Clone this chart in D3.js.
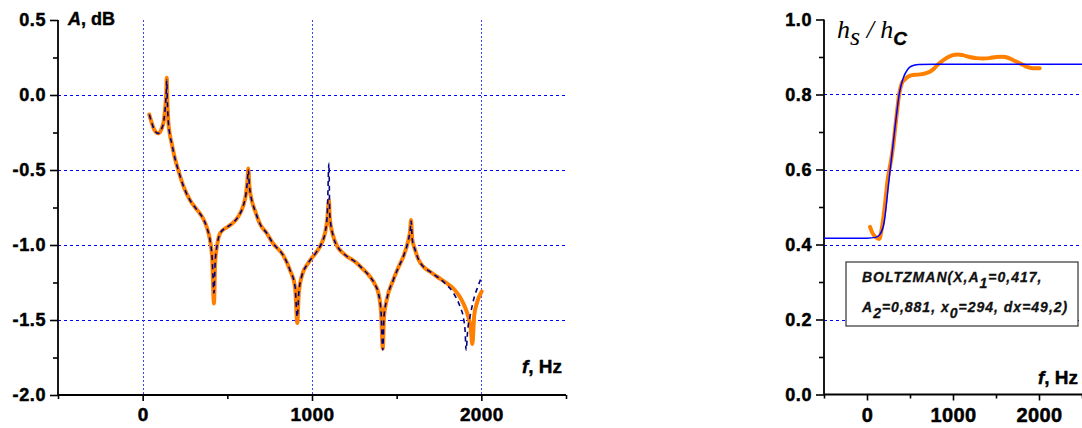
<!DOCTYPE html>
<html><head><meta charset="utf-8">
<script src="https://cdn.jsdelivr.net/npm/d3@7"></script>
<style>body{margin:0;background:#fff} svg{display:block}</style>
</head><body>
<svg id="c" width="1082" height="428"></svg>
<script>
// ---- Left panel: amplitude A (dB) vs frequency f (Hz)
const leftMeasF = [39,55,70,92,110,125,135,140,142,146,151,160,171,190,210,245,279,310,338,360,378,398,410,421,428,440,458,500,533,565,592,610,618,624,630,640,651,663,693,732,770,829,870,900,913,922,939,978,1028,1060,1077,1090,1100,1105,1126,1150,1185,1264,1300,1342,1375,1392,1408,1418,1425,1441,1480,1510,1539,1569,1580,1585,1592,1609,1630,1657,1700,1737,1790,1835,1870,1894,1923,1938,1947,1958,1973,2002];
const leftMeasA = [-0.13,-0.19,-0.235,-0.256,-0.23,-0.17,-0.06,0.03,0.115,-0.05,-0.17,-0.26,-0.32,-0.42,-0.5,-0.62,-0.70,-0.75,-0.79,-0.83,-0.88,-0.97,-1.08,-1.39,-1.12,-1.0,-0.92,-0.88,-0.853,-0.81,-0.745,-0.66,-0.58,-0.49,-0.60,-0.68,-0.73,-0.77,-0.86,-0.92,-0.99,-1.067,-1.167,-1.278,-1.52,-1.32,-1.21,-1.12,-1.044,-0.98,-0.92,-0.83,-0.70,-0.82,-0.944,-1.01,-1.056,-1.12,-1.16,-1.21,-1.27,-1.32,-1.45,-1.69,-1.48,-1.367,-1.233,-1.15,-1.078,-0.967,-0.90,-0.833,-0.96,-1.033,-1.10,-1.144,-1.18,-1.21,-1.25,-1.29,-1.34,-1.39,-1.478,-1.56,-1.66,-1.47,-1.39,-1.31];
const leftModelF = [39,55,70,92,110,125,135,140,142,146,151,160,171,190,210,245,279,310,338,360,378,398,410,421,428,440,458,500,533,565,592,610,618,624,630,640,651,663,693,732,770,829,870,900,913,922,939,978,1028,1060,1077,1090,1100,1105,1126,1150,1185,1264,1300,1342,1375,1392,1408,1418,1425,1441,1480,1510,1539,1569,1580,1585,1592,1609,1630,1657,1700,1737,1790,1835,1874,1895,1904,1910,1920,1933,1953,1982,2002];
const leftModelA = [-0.13,-0.19,-0.235,-0.256,-0.23,-0.17,-0.06,0.03,0.10,-0.05,-0.17,-0.26,-0.32,-0.42,-0.5,-0.62,-0.70,-0.75,-0.79,-0.83,-0.88,-0.97,-1.08,-1.32,-1.12,-1.0,-0.92,-0.88,-0.853,-0.81,-0.745,-0.66,-0.58,-0.50,-0.60,-0.68,-0.73,-0.77,-0.86,-0.92,-0.99,-1.067,-1.167,-1.278,-1.48,-1.32,-1.21,-1.12,-1.044,-0.98,-0.92,-0.80,-0.456,-0.80,-0.944,-1.01,-1.056,-1.12,-1.16,-1.21,-1.27,-1.32,-1.45,-1.70,-1.48,-1.367,-1.233,-1.15,-1.078,-0.967,-0.90,-0.84,-0.96,-1.033,-1.10,-1.144,-1.18,-1.21,-1.26,-1.32,-1.41,-1.49,-1.57,-1.70,-1.56,-1.478,-1.37,-1.27,-1.21];
const leftYTicks = [-2.0,-1.5,-1.0,-0.5,0.0,0.5];
const leftYMinor = [-1.75,-1.25,-0.75,-0.25,0.25];
const leftYGrid = [-1.5,-1.0,-0.5,0.0];
const leftXTicks = [0,1000,2000];
const leftXMinor = [-500,500,1500,2500];
const leftXGrid = [0,1000,2000];

// ---- Right panel: h_s / h_C vs frequency f (Hz)
const rightMeasF = [35,60,100,143,170,202,240,280,298,338,376,405,435,480,531,600,688,740,784,820,862,930,998,1060,1114,1190,1270,1350,1425,1500,1580,1640,1697,1760,1814,1870,1930,2008];
const rightMeasR = [0.447,0.432,0.42,0.415,0.44,0.492,0.572,0.625,0.652,0.732,0.803,0.83,0.839,0.848,0.852,0.853,0.857,0.862,0.87,0.879,0.887,0.898,0.905,0.907,0.905,0.9,0.897,0.896,0.897,0.9,0.901,0.898,0.892,0.885,0.879,0.873,0.87,0.87];
const rightFitF = [-500,0,100,150,200,250,294,340,376,420,470,520,600,800,2500];
const rightFitR = [0.417,0.417,0.419,0.427,0.46,0.56,0.649,0.74,0.803,0.843,0.866,0.876,0.880,0.881,0.881];
const rightYTicks = [0.0,0.2,0.4,0.6,0.8,1.0];
const rightYMinor = [0.1,0.3,0.5,0.7,0.9];
const rightYGrid = [0.2,0.4,0.6,0.8];
const rightXTicks = [0,1000,2000];
const rightXMinor = [-500,500,1500,2500];

const svg = d3.select("#c");
const FONT = "'Liberation Sans', Arial, sans-serif";
const ORANGE = "#ff8000", NAVY = "#000080", BLUE = "#0000ff", GRID = "#0000ff";

function panel(o) {
  const g = svg.append("g");
  const x = d3.scaleLinear().domain([-500,2500]).range(o.xr);
  const y = d3.scaleLinear().domain(o.yd).range(o.yr);
  g.selectAll(".hg").data(o.yGrid).join("line")
    .attr("x1", o.xr[0]).attr("x2", o.gridRight).attr("y1", d=>Math.round(y(d))+0.5).attr("y2", d=>Math.round(y(d))+0.5)
    .attr("stroke", GRID).attr("stroke-width",1).attr("stroke-dasharray","3,3");
  if (o.xGrid) g.selectAll(".vg").data(o.xGrid).join("line")
    .attr("y1", o.yr[1]).attr("y2", o.yr[0]).attr("x1", d=>Math.round(x(d))+0.5).attr("x2", d=>Math.round(x(d))+0.5)
    .attr("stroke", "#4040ff").attr("stroke-width",1).attr("stroke-dasharray","2,2");
  const yAx = g.append("g").attr("transform",`translate(${o.xr[0]},0)`)
    .call(d3.axisLeft(y).tickValues(o.yTicks).tickSize(8).tickPadding(4).tickFormat(d=>d.toFixed(1)));
  const yAxm = g.append("g").attr("transform",`translate(${o.xr[0]},0)`)
    .call(d3.axisLeft(y).tickValues(o.yMinor).tickSize(5).tickFormat(""));
  const xAx = g.append("g").attr("transform",`translate(0,${o.yr[0]})`)
    .call(d3.axisBottom(x).tickValues(o.xTicks).tickSize(6).tickPadding(7).tickFormat(d=>String(d)));
  const xAxm = g.append("g").attr("transform",`translate(0,${o.yr[0]})`)
    .call(d3.axisBottom(x).tickValues(o.xMinor).tickSize(4).tickFormat(""));
  [yAx,yAxm,xAx,xAxm].forEach(a=>{
    a.select(".domain").attr("stroke","#000").attr("stroke-width",1.8);
    a.selectAll(".tick line").attr("stroke","#000").attr("stroke-width",1.6);
  });
  [yAxm,xAxm].forEach(a=>a.select(".domain").remove());
  yAx.select(".domain").attr("d",`M0,${o.yr[1]}V${o.yr[0]}`);
  xAx.select(".domain").attr("d",`M${o.xr[0]},0H${o.xr[1]}`);
  yAx.selectAll("text").attr("font-family",FONT).attr("font-weight","bold").attr("font-size",o.yFs).attr("fill","#000")
    .attr("stroke","#000").attr("stroke-width",0.5).attr("letter-spacing",0.6);
  xAx.selectAll("text").attr("font-family",FONT).attr("font-weight","bold").attr("font-size",o.xFs).attr("fill","#000")
    .attr("stroke","#000").attr("stroke-width",0.5).attr("letter-spacing",0.4).attr("dy",null)
    .attr("y", o.xLabelY - o.yr[0]);
  return {g,x,y};
}

// Left panel
const L = panel({xr:[58,566], yd:[-2,0.5], yr:[395,20], gridRight:566,
  yGrid:leftYGrid, xGrid:leftXGrid, yTicks:leftYTicks, yMinor:leftYMinor, xTicks:leftXTicks, xMinor:leftXMinor,
  yFs:18, xFs:19, xLabelY:421});
const lineL = d3.line().x(d=>L.x(d[0])).y(d=>L.y(d[1])).curve(d3.curveMonotoneX);
L.g.append("path").datum(leftMeasF.map((f,i)=>[f,leftMeasA[i]])).attr("d",lineL)
  .attr("fill","none").attr("stroke",ORANGE).attr("stroke-width",4).attr("stroke-linejoin","round").attr("stroke-linecap","round");
L.g.append("path").datum(leftModelF.map((f,i)=>[f,leftModelA[i]])).attr("d",lineL)
  .attr("fill","none").attr("stroke",NAVY).attr("stroke-width",1.6).attr("stroke-dasharray","5,4");

L.g.append("text").attr("x",68).attr("y",25).attr("font-family",FONT).attr("font-weight","bold").attr("font-size",18)
  .attr("stroke","#000").attr("stroke-width",0.4)
  .html('<tspan font-style="italic">A</tspan>, dB');
L.g.append("text").attr("x",562).attr("y",373).attr("text-anchor","end").attr("font-family",FONT).attr("font-weight","bold").attr("font-size",19)
  .attr("stroke","#000").attr("stroke-width",0.4)
  .html('<tspan font-style="italic">f</tspan>, Hz');

// Right panel
const R = panel({xr:[824,1082], yd:[0,1], yr:[394.5,19.5], gridRight:1082,
  yGrid:rightYGrid, xGrid:null, yTicks:rightYTicks, yMinor:rightYMinor, xTicks:rightXTicks, xMinor:rightXMinor,
  yFs:18, xFs:20, xLabelY:422});
const lineR = d3.line().x(d=>R.x(d[0])).y(d=>R.y(d[1])).curve(d3.curveMonotoneX);
R.g.append("path").datum(rightMeasF.map((f,i)=>[f,rightMeasR[i]])).attr("d",lineR)
  .attr("fill","none").attr("stroke",ORANGE).attr("stroke-width",4).attr("stroke-linejoin","round").attr("stroke-linecap","round");
R.g.append("path").datum(rightFitF.map((f,i)=>[f,rightFitR[i]])).attr("d",lineR)
  .attr("fill","none").attr("stroke",BLUE).attr("stroke-width",1.5);

R.g.append("text").attr("x",837).attr("y",38).attr("font-family","'Liberation Serif', 'Times New Roman', serif").attr("font-style","italic").attr("font-size",26)
  .html('h<tspan dy="7">s</tspan><tspan dy="-7"> / h</tspan><tspan dy="7" font-family="Liberation Sans" font-weight="bold" font-size="19" stroke="#000" stroke-width="0.4">C</tspan>');
R.g.append("text").attr("x",1078).attr("y",384).attr("text-anchor","end").attr("font-family",FONT).attr("font-weight","bold").attr("font-size",19)
  .attr("stroke","#000").attr("stroke-width",0.4)
  .html('<tspan font-style="italic">f</tspan>, Hz');

R.g.append("rect").attr("x",846).attr("y",262).attr("width",232).attr("height",64)
  .attr("fill","#fff").attr("stroke","#333").attr("stroke-width",1.2);
const lt = R.g.append("g").attr("font-family",FONT).attr("font-weight","bold").attr("font-style","italic").attr("font-size",14)
  .attr("letter-spacing",1).attr("fill","#111").attr("stroke","#111").attr("stroke-width",0.3);
lt.append("text").attr("x",862).attr("y",282)
  .html('BOLTZMAN(X,A<tspan dy="6">1</tspan><tspan dy="-6">=0,417,</tspan>');
lt.append("text").attr("x",862).attr("y",312)
  .html('A<tspan dy="6">2</tspan><tspan dy="-6">=0,881, x</tspan><tspan dy="6">0</tspan><tspan dy="-6">=294, dx=49,2)</tspan>');
</script>
</body></html>
